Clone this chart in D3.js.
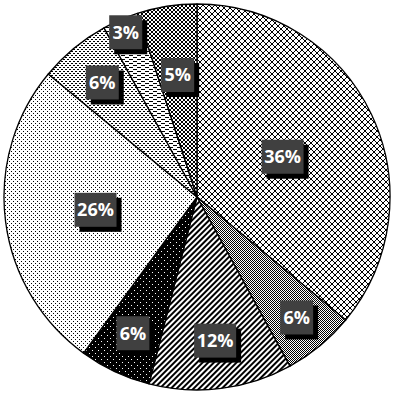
<!DOCTYPE html>
<html>
<head>
<meta charset="utf-8">
<script src="https://cdn.jsdelivr.net/npm/d3@7"></script>
<style>
  html, body { margin: 0; padding: 0; background: #fff; }
  svg { display: block; }
  .lbl { font-family: "Open Sans", "DejaVu Sans", sans-serif; font-weight: 700; font-size: 18px; fill: #fff; }
</style>
</head>
<body>
<svg width="393" height="393"></svg>
<script>
// slice shares, clockwise from 12 o'clock
var slices = ["A", "B", "C", "D", "E", "F", "G", "H"];
var shares = [36, 6, 12, 6, 26, 6, 3, 5];
var labels = ["36%", "6%", "12%", "6%", "26%", "6%", "3%", "5%"];

// layout: where each label sits, as a fraction of the radius
var labelR = [0.49, 0.81, 0.75, 0.78, 0.53, 0.77, 0.93, 0.64];
var fills = ["url(#p-cross)", "url(#p-check1)", "url(#p-diag)", "url(#p-blackdot)",
             "url(#p-lightdot)", "url(#p-darkdot)", "url(#p-dash)", "url(#p-check2)"];

var svg = d3.select("svg"),
    width = +svg.attr("width"),
    height = +svg.attr("height"),
    cx = 197, cy = 197, radius = 193;

var defs = svg.append("defs");

function pattern(id, w, h, bg) {
  var p = defs.append("pattern")
      .attr("id", id)
      .attr("patternUnits", "userSpaceOnUse")
      .attr("width", w).attr("height", h)
      .attr("shape-rendering", "crispEdges");
  p.append("rect").attr("width", w).attr("height", h).attr("fill", bg);
  return p;
}
function px(p, x, y, w, h, c) {
  p.append("rect").attr("x", x).attr("y", y).attr("width", w).attr("height", h).attr("fill", c || "#000");
}

// diagonal crosshatch (diamond grid), drawn pixel by pixel
var pc = pattern("p-cross", 6, 6, "#fff");
d3.range(6).forEach(function (k) { px(pc, k, k, 1, 1); px(pc, 5 - k, k, 1, 1); });

// fine 1px checker (reads gray)
var p1 = pattern("p-check1", 2, 2, "#fff");
px(p1, 0, 0, 1, 1); px(p1, 1, 1, 1, 1);

// wide diagonal stripes
var pd = defs.append("pattern").attr("id", "p-diag")
    .attr("patternUnits", "userSpaceOnUse").attr("width", 4).attr("height", 4)
    .attr("patternTransform", "rotate(45)");
pd.append("rect").attr("width", 4).attr("height", 4).attr("fill", "#fff");
pd.append("rect").attr("width", 2).attr("height", 4).attr("fill", "#000");

// black with white dots
var pb = pattern("p-blackdot", 6, 6, "#000");
px(pb, 0, 0, 1, 1, "#fff"); px(pb, 3, 3, 1, 1, "#fff");

// sparse black dots
var pl = pattern("p-lightdot", 4, 4, "#fff");
px(pl, 0, 0, 1, 1); px(pl, 2, 2, 1, 1);

// denser dots
var pk = pattern("p-darkdot", 4, 4, "#fff");
px(pk, 0, 0, 2, 1); px(pk, 2, 2, 2, 1);

// horizontal dashes
var pq = pattern("p-dash", 8, 4, "#fff");
px(pq, 0, 0, 4, 1); px(pq, 4, 2, 4, 1);

// 2px checker
var p2 = pattern("p-check2", 4, 4, "#fff");
px(p2, 0, 0, 2, 2); px(p2, 2, 2, 2, 2);

var data = slices.map(function (s, i) { return {id: s, value: shares[i], label: labels[i], i: i}; });

var pie = d3.pie().sort(null).value(function (d) { return d.value; });
var arc = d3.arc().innerRadius(0).outerRadius(radius);
var arcs = pie(data);

var g = svg.append("g").attr("transform", "translate(" + cx + "," + cy + ")");

g.selectAll(".slice")
    .data(arcs)
    .enter().append("path")
    .attr("class", "slice")
    .attr("d", arc)
    .attr("fill", function (d) { return fills[d.data.i]; })
    .attr("stroke", "#000")
    .attr("stroke-width", 1.3)
    .attr("stroke-linejoin", "round");

var lab = g.selectAll(".label")
    .data(arcs)
    .enter().append("g")
    .attr("class", "label")
    .attr("transform", function (d) {
      var a = (d.startAngle + d.endAngle) / 2,
          r = radius * labelR[d.data.i];
      return "translate(" + (Math.sin(a) * r) + "," + (-Math.cos(a) * r) + ")";
    });

lab.each(function (d) {
  var el = d3.select(this);
  var w = d.data.label.length > 2 ? 42 : 33, h = 34;
  el.append("rect").attr("x", -w / 2 + 5).attr("y", -h / 2 + 5).attr("width", w).attr("height", h).attr("fill", "#000");
  el.append("rect").attr("x", -w / 2).attr("y", -h / 2).attr("width", w).attr("height", h).attr("fill", "#404040");
  el.append("text").attr("class", "lbl").attr("text-anchor", "middle").attr("dy", "0.36em").text(d.data.label);
});
</script>
</body>
</html>
